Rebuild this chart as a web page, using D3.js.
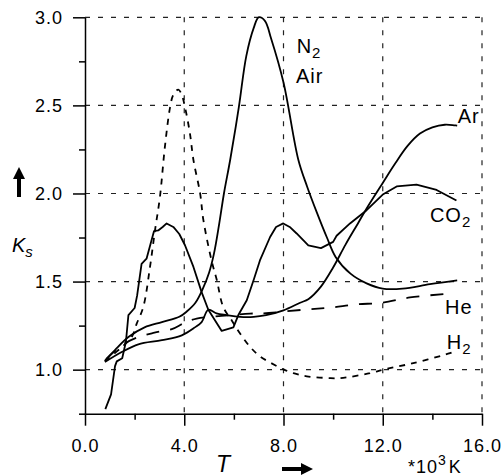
<!DOCTYPE html>
<html>
<head>
<meta charset="utf-8">
<script src="https://cdn.jsdelivr.net/npm/d3@7"></script>
<style>
    body { margin: 0; background: #fff; }
    svg { display: block; font-family: "Liberation Sans", Arial, sans-serif; }
</style>
</head>
<body>
<div id="chart"></div>
<script>
// Werte: [T in 10^3 K, Ks]
const n2Air = [[0.8,1.05],[1.2,1.11],[1.75,1.185],[2.4,1.24],[3.1,1.27],[3.8,1.30],[4.1,1.33],[4.45,1.38],[4.75,1.46],[5.0,1.55],[5.2,1.66],[5.4,1.82],[5.6,2.0],[5.85,2.19],[6.2,2.49],[6.5,2.78],[6.8,2.94],[7.0,3.0],[7.25,2.98],[7.5,2.88],[8.0,2.63],[8.6,2.19],[8.95,2.04],[9.35,1.89],[9.75,1.75],[10.1,1.64],[10.7,1.545],[11.35,1.49],[12.0,1.46],[12.8,1.46],[13.9,1.485],[15.0,1.507]];
const ar = [[0.8,1.043],[1.48,1.10],[2.15,1.144],[3.1,1.167],[3.9,1.195],[4.43,1.24],[4.7,1.27],[4.97,1.34],[5.3,1.32],[5.7,1.31],[6.25,1.30],[6.8,1.30],[7.3,1.31],[8.0,1.337],[8.67,1.38],[9.0,1.40],[9.5,1.47],[10.0,1.58],[10.5,1.71],[11.0,1.83],[11.35,1.915],[12.0,2.06],[12.5,2.17],[13.0,2.27],[13.5,2.34],[14.0,2.375],[14.5,2.39],[15.0,2.385]];
const co2 = [[0.82,0.776],[1.05,0.86],[1.21,1.02],[1.28,1.047],[1.5,1.065],[1.65,1.16],[1.75,1.31],[2.0,1.35],[2.1,1.42],[2.28,1.60],[2.48,1.63],[2.78,1.786],[2.95,1.79],[3.13,1.81],[3.29,1.83],[3.56,1.81],[3.8,1.77],[4.03,1.706],[4.37,1.583],[4.7,1.44],[4.97,1.34],[5.51,1.22],[5.98,1.24],[6.18,1.31],[6.52,1.394],[6.8,1.51],[7.05,1.62],[7.46,1.753],[7.7,1.81],[7.99,1.83],[8.25,1.81],[8.53,1.773],[9.0,1.706],[9.51,1.69],[10.0,1.725],[10.14,1.76],[10.68,1.83],[11.35,1.905],[12.02,1.996],[12.56,2.04],[13.36,2.05],[14.17,2.02],[14.97,1.96]];
const he = [[0.85,1.06],[1.5,1.14],[2.15,1.185],[2.8,1.21],[3.5,1.23],[4.0,1.265],[4.5,1.29],[5.5,1.305],[6.65,1.318],[7.2,1.32],[8.8,1.34],[9.9,1.352],[10.9,1.37],[12.0,1.38],[13.1,1.41],[14.6,1.43]];
const h2 = [[0.8,1.05],[1.5,1.13],[1.9,1.19],[2.08,1.26],[2.35,1.356],[2.62,1.583],[2.82,1.79],[3.02,1.98],[3.22,2.265],[3.43,2.49],[3.56,2.56],[3.76,2.59],[3.9,2.56],[4.03,2.49],[4.23,2.34],[4.37,2.19],[4.64,2.0],[4.77,1.85],[5.1,1.62],[5.31,1.51],[5.57,1.356],[5.91,1.28],[6.25,1.205],[6.65,1.13],[7.05,1.076],[7.73,1.02],[8.02,1.0],[8.4,0.98],[8.94,0.962],[9.9,0.952],[10.3,0.952],[11.49,0.98],[12.02,1.0],[13.23,1.037],[14.71,1.094],[15.0,1.11]];

const xTicksMajor = [0, 4, 8, 12, 16];
const xTicksMinor = [2, 6, 10, 14];
const yTicksMajor = [1.0, 1.5, 2.0, 2.5, 3.0];
const yTicksMinor = [0.75, 1.25, 1.75, 2.25, 2.75];

document.addEventListener("DOMContentLoaded", function () {
    const width = 503;
    const height = 476;

    const svg = d3.select("#chart")
        .append("svg")
        .attr("width", width)
        .attr("height", height);

    const x = d3.scaleLinear().domain([0, 16]).range([85, 482]);
    const y = d3.scaleLinear().domain([0.75, 3.0]).range([413.7, 17.3]);

    // Gitter
    const grid = svg.append("g")
        .attr("stroke", "#222")
        .attr("stroke-width", 1.2)
        .attr("stroke-dasharray", "5,8");
    grid.selectAll("line.h")
        .data(yTicksMajor)
        .join("line")
        .attr("class", "h")
        .attr("x1", x(0)).attr("x2", x(16))
        .attr("y1", d => y(d)).attr("y2", d => y(d));
    grid.selectAll("line.v")
        .data(xTicksMajor.slice(1))
        .join("line")
        .attr("class", "v")
        .attr("x1", d => x(d)).attr("x2", d => x(d))
        .attr("y1", y(3.0)).attr("y2", y(0.75));

    // Achsen
    const fmt = d3.format(".1f");
    const styleAxis = g => {
        g.selectAll("path, line").attr("stroke", "#000").attr("stroke-width", 1.5);
        g.selectAll("text")
            .attr("fill", "#000")
            .style("font-size", "18px")
            .style("letter-spacing", "1px")
            .style("font-family", "'Liberation Sans', Arial, sans-serif");
    };

    svg.append("g")
        .attr("transform", `translate(${x(0)},0)`)
        .call(d3.axisLeft(y).tickValues(yTicksMinor).tickSize(6).tickSizeOuter(0).tickFormat(""))
        .call(styleAxis);
    svg.append("g")
        .attr("transform", `translate(${x(0)},0)`)
        .call(d3.axisLeft(y).tickValues(yTicksMajor).tickSize(12).tickSizeOuter(0).tickPadding(10).tickFormat(fmt))
        .call(styleAxis)
        .call(g => g.select(".domain").remove());

    svg.append("g")
        .attr("transform", `translate(0,${y(0.75)})`)
        .call(d3.axisBottom(x).tickValues(xTicksMinor).tickSize(6).tickSizeOuter(0).tickFormat(""))
        .call(styleAxis);
    svg.append("g")
        .attr("transform", `translate(0,${y(0.75)})`)
        .call(d3.axisBottom(x).tickValues(xTicksMajor).tickSize(12).tickSizeOuter(0).tickPadding(14).tickFormat(fmt))
        .call(styleAxis)
        .call(g => g.select(".domain").remove());

    // Kurven
    const smooth = d3.line()
        .x(d => x(d[0]))
        .y(d => y(d[1]))
        .curve(d3.curveCatmullRom.alpha(0.5));
    const straight = d3.line()
        .x(d => x(d[0]))
        .y(d => y(d[1]));

    const curves = [
        { data: n2Air, line: smooth, dash: null },
        { data: ar, line: smooth, dash: null },
        { data: co2, line: straight, dash: null },
        { data: he, line: smooth, dash: "13,11" },
        { data: h2, line: smooth, dash: "6,6" }
    ];

    svg.append("g")
        .selectAll("path")
        .data(curves)
        .join("path")
        .attr("d", d => d.line(d.data))
        .attr("fill", "none")
        .attr("stroke", "#000")
        .attr("stroke-width", 1.8)
        .attr("stroke-linejoin", "round")
        .attr("stroke-dasharray", d => d.dash);

    // Beschriftungen
    const lbl = svg.append("g")
        .attr("fill", "#000")
        .style("font-size", "20px")
        .style("letter-spacing", "1px");

    function label(tx, ty, main, sub) {
        const t = lbl.append("text").attr("x", x(tx)).attr("y", y(ty)).text(main);
        if (sub) {
            t.append("tspan").attr("dy", 5).style("font-size", "15px").text(sub);
        }
    }
    label(8.53, 2.797, "N", "2");
    label(8.5, 2.627, "Air");
    label(15.02, 2.40, "Ar");
    label(13.9, 1.84, "CO", "2");
    label(14.51, 1.314, "He");
    label(14.58, 1.115, "H", "2");

    // Achsentitel
    const ks = svg.append("text")
        .attr("x", 12)
        .attr("y", 251.7)
        .style("font-size", "20px")
        .style("font-style", "italic")
        .text("K");
    ks.append("tspan").attr("dy", 5).style("font-size", "15px").text("s");

    svg.append("text")
        .attr("x", 216)
        .attr("y", 472)
        .style("font-size", "23px")
        .style("font-style", "italic")
        .text("T");

    const unit = svg.append("text")
        .attr("x", 408)
        .attr("y", 472.7)
        .style("font-size", "18px")
        .style("letter-spacing", "1px")
        .text("*10");
    unit.append("tspan").attr("dy", -8).style("font-size", "14px").text("3");
    unit.append("tspan").attr("dy", 8).attr("dx", 2).text("K");

    // Pfeile
    svg.append("line")
        .attr("x1", 19).attr("x2", 19)
        .attr("y1", 197).attr("y2", 178)
        .attr("stroke", "#000").attr("stroke-width", 4);
    svg.append("path")
        .attr("d", "M13,179 L25,179 L19,167 Z")
        .attr("fill", "#000");

    svg.append("line")
        .attr("x1", 282).attr("x2", 302)
        .attr("y1", 469).attr("y2", 469)
        .attr("stroke", "#000").attr("stroke-width", 4);
    svg.append("path")
        .attr("d", "M301,463 L301,475 L313,469 Z")
        .attr("fill", "#000");
});
</script>
</body>
</html>
